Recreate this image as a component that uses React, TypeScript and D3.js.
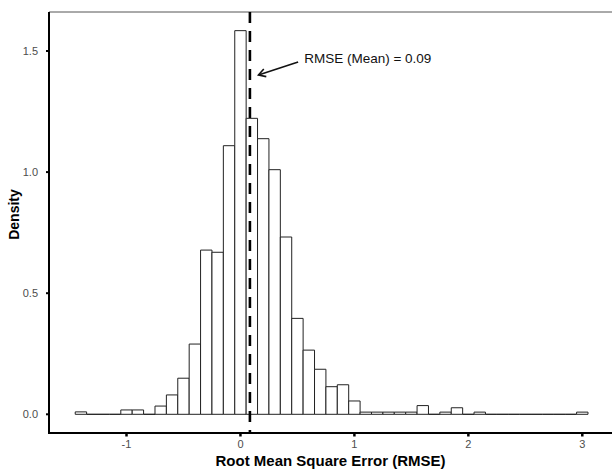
import React from "react";
import * as d3 from "d3";

const binCenters = [
  -1.4, -1.3, -1.2, -1.1, -1.0, -0.9, -0.8, -0.7, -0.6, -0.5, -0.4, -0.3, -0.2, -0.1,
  0.0, 0.1, 0.2, 0.3, 0.4, 0.5, 0.6, 0.7, 0.8, 0.9, 1.0, 1.1, 1.2, 1.3, 1.4, 1.5,
  1.6, 1.7, 1.8, 1.9, 2.0, 2.1, 2.2, 2.3, 2.4, 2.5, 2.6, 2.7, 2.8, 2.9, 3.0,
];
const densities = [
  0.01, 0, 0, 0, 0.018, 0.018, 0, 0.034, 0.08, 0.149, 0.29, 0.678, 0.669, 1.109,
  1.584, 1.222, 1.138, 1.01, 0.732, 0.396, 0.265, 0.186, 0.114, 0.122, 0.055, 0.009, 0.009, 0.009, 0.009, 0.009,
  0.036, 0, 0.009, 0.027, 0, 0.009, 0, 0, 0, 0, 0, 0, 0, 0, 0.009,
];
const binWidth = 0.1;
const yTicks = [0, 0.5, 1.0, 1.5];
const yTickLabels = ["0.0", "0.5", "1.0", "1.5"];
const xTicks = [-1, 0, 1, 2, 3];
const xTickLabels = ["-1", "0", "1", "2", "3"];
const meanRMSE = 0.083;
const annotationText = "RMSE (Mean) = 0.09";
const arrowFrom = [0.506, 1.455];
const arrowTo = [0.158, 1.401];
const labelPos = [0.559, 1.449];
const xTitle = "Root Mean Square Error (RMSE)";
const yTitle = "Density";

const FONT = "'Liberation Sans', Arial, Helvetica, sans-serif";

export default function App() {
  const W = 612;
  const H = 471;
  const panelLeft = 49;
  const panelTop = 12;
  const panelRight = 612;
  const axisY = 433;
  const x = d3.scaleLinear().domain([-1, 3]).range([126.5, 582.3]);
  const y = d3.scaleLinear().domain([0, 1.5]).range([414.3, 51]);

  const bars = binCenters.map((c, i) => {
    const x0 = x(c - binWidth / 2);
    const x1 = x(c + binWidth / 2);
    const y0 = y(0);
    const y1 = y(densities[i]);
    return `M${x0},${y0}V${y1}H${x1}V${y0}Z`;
  });

  // arrow geometry
  const ax0 = x(arrowFrom[0]);
  const ay0 = y(arrowFrom[1]);
  const ax1 = x(arrowTo[0]);
  const ay1 = y(arrowTo[1]);
  const ang = Math.atan2(ay0 - ay1, ax0 - ax1);
  const headLen = 8;
  const spread = Math.PI / 6;
  const h1 = [ax1 + headLen * Math.cos(ang - spread), ay1 + headLen * Math.sin(ang - spread)];
  const h2 = [ax1 + headLen * Math.cos(ang + spread), ay1 + headLen * Math.sin(ang + spread)];

  return (
    <div style={{ position: "absolute", left: 0, top: 0 }}>
      <svg width={W} height={H} style={{ display: "block", background: "#fff" }}>
        {/* panel top border */}
        <line x1={panelLeft} x2={panelRight} y1={panelTop} y2={panelTop} stroke="#555" strokeWidth={1} />
        {/* bars */}
        {bars.map((d, i) => (
          <path key={i} d={d} fill="#fff" stroke="#222" strokeWidth={1} />
        ))}
        {/* mean line */}
        <line
          x1={x(meanRMSE)}
          x2={x(meanRMSE)}
          y1={panelTop}
          y2={axisY}
          stroke="#000"
          strokeWidth={2.6}
          strokeDasharray="11 8"
        />
        {/* annotation */}
        <line x1={ax0} y1={ay0} x2={ax1} y2={ay1} stroke="#111" strokeWidth={1.6} />
        <polyline
          points={`${h1[0]},${h1[1]} ${ax1},${ay1} ${h2[0]},${h2[1]}`}
          fill="none"
          stroke="#111"
          strokeWidth={1.6}
        />
        <text x={x(labelPos[0])} y={y(labelPos[1])} fontFamily={FONT} fontSize={13.5} fill="#111">
          {annotationText}
        </text>
        {/* axes */}
        <line x1={panelLeft} x2={panelLeft} y1={panelTop} y2={axisY + 1} stroke="#000" strokeWidth={2} />
        <line x1={panelLeft - 1} x2={panelRight} y1={axisY} y2={axisY} stroke="#000" strokeWidth={2} />
        {yTicks.map((t, i) => (
          <g key={"y" + i}>
            <line x1={panelLeft - 3} x2={panelLeft} y1={y(t)} y2={y(t)} stroke="#000" strokeWidth={2} />
            <text
              x={38}
              y={y(t)}
              dy="0.36em"
              textAnchor="end"
              fontFamily={FONT}
              fontSize={11}
              fill="#4d4d4d"
            >
              {yTickLabels[i]}
            </text>
          </g>
        ))}
        {xTicks.map((t, i) => (
          <g key={"x" + i}>
            <line x1={x(t)} x2={x(t)} y1={axisY} y2={axisY + 3.5} stroke="#000" strokeWidth={2.5} />
            <text
              x={x(t)}
              y={448.3}
              textAnchor="middle"
              fontFamily={FONT}
              fontSize={11}
              fill="#4d4d4d"
            >
              {xTickLabels[i]}
            </text>
          </g>
        ))}
        <text
          x={(panelLeft + panelRight) / 2}
          y={466}
          textAnchor="middle"
          fontFamily={FONT}
          fontSize={15}
          fontWeight="bold"
          fill="#000"
        >
          {xTitle}
        </text>
        <text
          transform={`translate(19,${(panelTop + axisY) / 2 - 8}) rotate(-90)`}
          textAnchor="middle"
          fontFamily={FONT}
          fontSize={14}
          fontWeight="bold"
          fill="#000"
        >
          {yTitle}
        </text>
      </svg>
    </div>
  );
}
